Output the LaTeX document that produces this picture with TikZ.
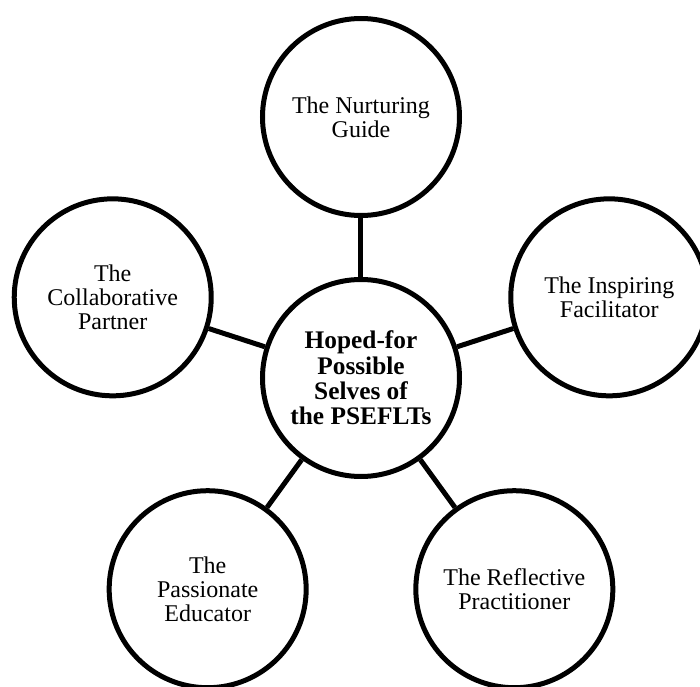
\documentclass[tikz,border=0pt]{standalone}
\usepackage{fontspec}
\setmainfont{Liberation Serif}
\usetikzlibrary{positioning}
\tikzset{
	selfcircle/.style={circle, draw, line width=3.75pt, minimum size=147.75pt, inner sep=0pt, align=center},
	hope/.style={selfcircle, font=\fontsize{18}{17.8}\selectfont},
	core/.style={selfcircle, font=\fontsize{19}{19}\selectfont\bfseries},
	link/.style={line width=3.75pt},
}

\begin{document}
\begin{tikzpicture}[on grid]
	\useasboundingbox (-270.75pt,-231pt) rectangle (254.25pt,283.5pt);
	\node[core] (self) at (0,0) {Hoped-for\\Possible\\Selves of\\the PSEFLTs};
	\node[hope, above =195.75pt of self] (guide) {The Nurturing\\Guide};
	\node[hope, above right =60.5pt and 186.2pt of self] (facilitator) {The Inspiring\\Facilitator};
	\node[hope, below right =158.4pt and 115pt of self] (practitioner) {The Reflective\\Practitioner};
	\node[hope, below left =158.4pt and 115pt of self] (educator) {The\\Passionate\\Educator};
	\node[hope, above left =60.5pt and 186.2pt of self] (partner) {The\\Collaborative\\Partner};
	%%%%%%%%%%
	\draw[link] (self) -- (guide);
	\draw[link] (self) -- (facilitator);
	\draw[link] (self) -- (practitioner);
	\draw[link] (self) -- (educator);
	\draw[link] (self) -- (partner);
\end{tikzpicture}
\end{document}
